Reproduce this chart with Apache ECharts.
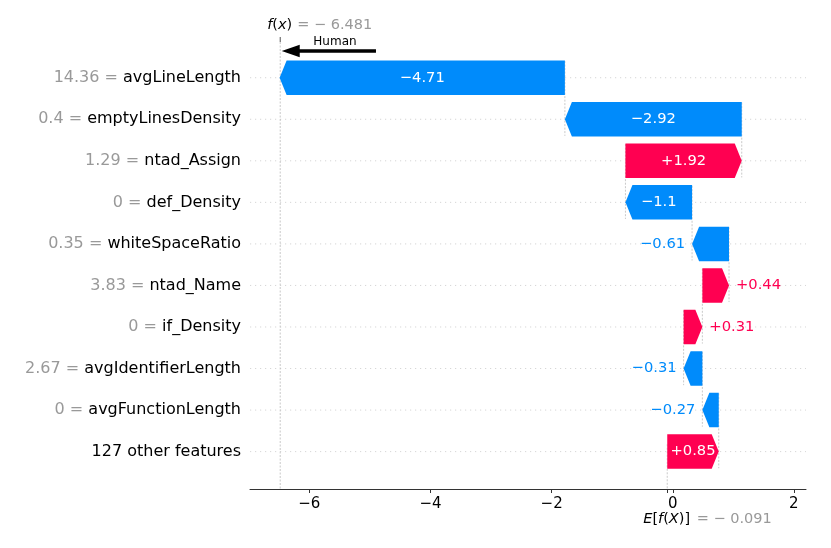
<!DOCTYPE html>
<html><head><meta charset="utf-8">
<script src="https://cdn.jsdelivr.net/npm/echarts@6/dist/echarts.min.js"></script>
<style>html,body{margin:0;padding:0;background:#fff}#c{width:831px;height:548px}</style>
</head><body><div id="c"></div>
<script>
// ---- data ----
const features = ['avgLineLength','emptyLinesDensity','ntad_Assign','def_Density','whiteSpaceRatio','ntad_Name','if_Density','avgIdentifierLength','avgFunctionLength','127 other features'];
const featureValues = ['14.36','0.4','1.29','0','0.35','3.83','0','2.67','0',''];
const shapValues = [-4.71,-2.92,1.92,-1.1,-0.61,0.44,0.31,-0.31,-0.27,0.85];
const baseValue = -0.091;
const fxValue = -6.481;
const xTickValues = [-6,-4,-2,0,2];
const xRange = [-6.98, 2.2];
const yRange = [-0.9, 9.86];
const annotationText = 'Human';
const annotationTail = -4.9;

// ---- styling ----
const BLUE = '#008bfb', RED = '#ff0051', FONT = 'DejaVu Sans';
const n = features.length;
const MINUS = '\u2212';

const bars = [];
let cur = baseValue;
for (let i = n - 1; i >= 0; i--) {
  const v = shapValues[i];
  bars.push([cur, cur + v, n - 1 - i, v]);
  cur += v;
}
const rows = features.map((_, i) => i);

function fmt(v) { return (v > 0 ? '+' : MINUS) + String(Math.abs(v)); }
const mctx = document.createElement('canvas').getContext('2d');
function textWidth(s, size) { mctx.font = size + 'px "' + FONT + '"'; return mctx.measureText(s).width; }

const LBL = 14.7;

function renderBar(params, api) {
  const s = api.value(0), e = api.value(1), row = api.value(2), v = api.value(3);
  const p0 = api.coord([s, row]), p1 = api.coord([e, row]);
  const h = api.size([0, 0.83])[1];
  const yc = p0[1], yt = yc - h / 2, yb = yc + h / 2;
  const x0 = p0[0], x1 = p1[0];
  const dir = x1 >= x0 ? 1 : -1;
  const len = Math.abs(x1 - x0);
  const hl = Math.min(7, len);
  const xb = x1 - dir * hl;
  const color = v >= 0 ? RED : BLUE;
  const label = fmt(v);
  const tw = textWidth(label, LBL);
  const children = [{ type: 'polygon', shape: { points: [[x0, yt], [xb, yt], [x1, yc], [xb, yb], [x0, yb]] }, style: { fill: color } }];
  if (tw < len) {
    children.push({ type: 'text', style: { text: label, x: (x0 + x1) / 2, y: yc, align: 'center', verticalAlign: 'middle', fill: '#fff', fontSize: LBL, fontFamily: FONT } });
  } else {
    children.push({ type: 'text', style: { text: label, x: x1 + dir * 7, y: yc, align: dir > 0 ? 'left' : 'right', verticalAlign: 'middle', fill: color, fontSize: LBL, fontFamily: FONT } });
  }
  return { type: 'group', children };
}

function renderRowLine(params, api) {
  const cs = params.coordSys;
  const y = api.coord([0, api.value(0)])[1];
  return { type: 'line', shape: { x1: cs.x, y1: y, x2: cs.x + cs.width, y2: y }, style: { stroke: '#cccccc', lineWidth: 0.8, lineDash: [1.2, 3.8] } };
}

function renderConnector(params, api) {
  const s = api.value(0), row = api.value(2);
  if (row < 1) return null;
  const a = api.coord([s, row + 0.4]), b = api.coord([s, row - 1.4]);
  return { type: 'line', shape: { x1: a[0], y1: a[1], x2: b[0], y2: b[1] }, style: { stroke: '#bbbbbb', lineWidth: 0.8, lineDash: [2, 1.5] } };
}

function renderDecor(params, api) {
  const cs = params.coordSys;
  const top = cs.y, bottom = cs.y + cs.height;
  const fxp = api.coord([fxValue, 0])[0];
  const bp = api.coord([baseValue, 0])[0];
  const baseTop = api.coord([0, yRange[0] + (yRange[1] - yRange[0]) / n])[1];
  const tailp = api.coord([annotationTail, 0])[0];
  const ay = top + 9;
  const dash = { stroke: '#bbbbbb', lineWidth: 0.8, lineDash: [2, 1.5] };
  const rich = {
    it: { fontStyle: 'italic', fill: '#000', fontSize: 14.5, fontFamily: FONT },
    up: { fill: '#000', fontSize: 14.5, fontFamily: FONT }
  };
  return {
    type: 'group',
    children: [
      { type: 'line', shape: { x1: fxp, y1: top, x2: fxp, y2: bottom }, style: dash },
      { type: 'line', shape: { x1: bp, y1: baseTop, x2: bp, y2: bottom }, style: dash },
      { type: 'line', shape: { x1: fxp, y1: top - 5, x2: fxp, y2: top }, style: { stroke: '#555', lineWidth: 1 } },
      { type: 'text', style: { text: '{it|f}{up|(}{it|x}{up|)}', rich, x: fxp - 13, y: top - 17, align: 'left', verticalAlign: 'middle', fontSize: 14.5, fontFamily: FONT } },
      { type: 'text', style: { text: '= ' + MINUS + ' ' + String(Math.abs(fxValue)), x: fxp + 17, y: top - 17, align: 'left', verticalAlign: 'middle', fill: '#999999', fontSize: 14.5, fontFamily: FONT } },
      { type: 'text', style: { text: '{it|E}{up|[}{it|f}{up|(}{it|X}{up|)]}', rich, x: bp - 24, y: bottom + 30, align: 'left', verticalAlign: 'middle', fontSize: 14.5, fontFamily: FONT } },
      { type: 'text', style: { text: '= ' + MINUS + ' ' + String(Math.abs(baseValue)), x: bp + 29.5, y: bottom + 30, align: 'left', verticalAlign: 'middle', fill: '#999999', fontSize: 14.5, fontFamily: FONT } },
      // annotation arrow
      { type: 'polygon', shape: { points: [[fxp + 1.5, ay], [fxp + 19.5, ay - 6.3], [fxp + 19.5, ay - 1.8], [tailp, ay - 1.8], [tailp, ay + 1.8], [fxp + 19.5, ay + 1.8], [fxp + 19.5, ay + 6.3]] }, style: { fill: '#000' } },
      { type: 'text', style: { text: annotationText, x: tailp - 41, y: top - 0.5, align: 'center', verticalAlign: 'middle', fill: '#000', fontSize: 12, fontFamily: FONT } }
    ]
  };
}

const chart = echarts.init(document.getElementById('c'), null, { renderer: 'canvas' });
chart.setOption({
  animation: false,
  backgroundColor: '#fff',
  grid: { left: 250, right: 25, top: 42, bottom: 59, containLabel: false },
  xAxis: {
    type: 'value', min: xRange[0], max: xRange[1],
    axisLine: { show: true, onZero: false, lineStyle: { color: '#333', width: 1 } },
    axisTick: { show: true, customValues: xTickValues.concat([baseValue]), length: 4, lineStyle: { color: '#333', width: 1 } },
    axisLabel: { customValues: xTickValues, margin: 8, color: '#000', fontSize: 15, fontFamily: FONT,
      formatter: v => (v < 0 ? MINUS + Math.abs(v) : String(v)) },
    splitLine: { show: false }
  },
  yAxis: {
    type: 'value', min: yRange[0], max: yRange[1],
    axisLine: { show: false }, axisTick: { show: false }, splitLine: { show: false },
    axisLabel: {
      customValues: rows, margin: 9,
      formatter: v => {
        const idx = n - 1 - Math.round(v);
        const fv = featureValues[idx];
        return fv === '' ? '{n|' + features[idx] + '}' : '{v|' + fv + ' = }{n|' + features[idx] + '}';
      },
      rich: {
        v: { color: '#999999', fontSize: 16, fontFamily: FONT },
        n: { color: '#000', fontSize: 16, fontFamily: FONT }
      }
    }
  },
  series: [
    { type: 'custom', z: 1, renderItem: renderRowLine, data: rows.map(r => [r]), encode: { y: 0 }, silent: true },
    { type: 'custom', z: 1, renderItem: renderConnector, data: bars, encode: { x: [0, 1], y: 2 }, silent: true },
    { type: 'custom', z: 1, renderItem: renderDecor, data: [[fxValue, baseValue]], encode: { x: [0, 1] }, silent: true, clip: false },
    { type: 'custom', z: 3, renderItem: renderBar, data: bars, encode: { x: [0, 1], y: 2 } }
  ]
});
</script></body></html>
